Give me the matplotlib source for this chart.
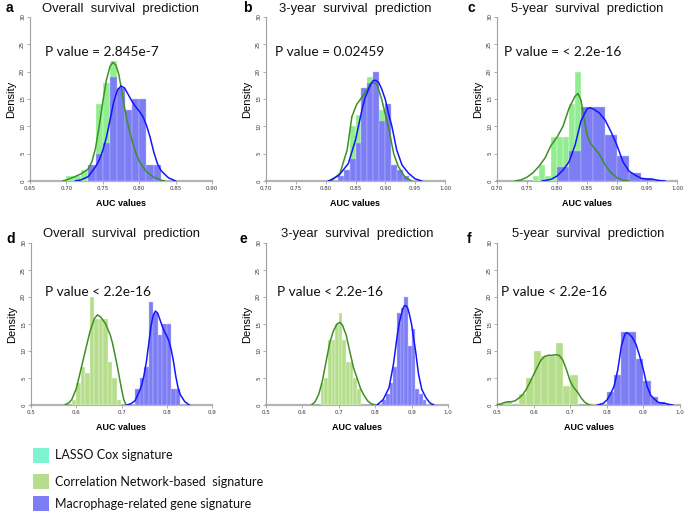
import matplotlib
matplotlib.use("Agg")
import matplotlib.pyplot as plt
from matplotlib.patches import Rectangle

# ---- histogram data (bin left edges, densities) ----
# top row: LASSO Cox vs macrophage signature
os_lasso_bins = [0.70, 0.71, 0.72, 0.73, 0.74, 0.75, 0.76, 0.77, 0.78, 0.79, 0.80, 0.81]
os_lasso_dens = [1, 1, 2, 3, 14, 18, 22, 17, 10, 8, 3, 1]
os_macro_bins = [0.73, 0.74, 0.75, 0.76, 0.77, 0.78, 0.79, 0.80, 0.81, 0.82]
os_macro_dens = [3, 5, 7, 19, 17, 13, 15, 15, 3, 3]

y3_lasso_bins = [0.83, 0.84, 0.85, 0.86, 0.87, 0.88, 0.89, 0.90, 0.91, 0.92]
y3_lasso_dens = [1, 10, 12, 17, 19, 17, 13, 8, 2, 1]
y3_macro_bins = [0.82, 0.83, 0.84, 0.85, 0.86, 0.87, 0.88, 0.89, 0.90, 0.91, 0.92, 0.93]
y3_macro_dens = [1, 2, 4, 7, 17, 18, 20, 11, 14, 3, 2, 1]

y5_lasso_bins = [0.76, 0.77, 0.78, 0.79, 0.80, 0.81, 0.82, 0.83, 0.84, 0.85, 0.86, 0.87, 0.88, 0.89]
y5_lasso_dens = [1, 3, 1, 8, 8, 8, 14, 20, 13, 9, 7, 5, 2, 1]
y5_macro_bins = [0.80, 0.82, 0.84, 0.86, 0.88, 0.90, 0.92, 0.94]
y5_macro_dens = [2.5, 5.5, 13.5, 13.5, 8.5, 4.5, 1.5, 0.5]

# bottom row: correlation network signature (macrophage data reused)
os_corr_bins = [0.59, 0.60, 0.61, 0.62, 0.63, 0.64, 0.65, 0.66, 0.67, 0.68, 0.69]
os_corr_dens = [1, 4, 7, 6, 20, 16, 16, 16, 8, 5, 1]
y3_corr_bins = [0.65, 0.66, 0.67, 0.68, 0.69, 0.70, 0.71, 0.72, 0.73, 0.74, 0.75]
y3_corr_dens = [4, 5, 12, 12, 15, 17, 12, 8, 8, 5, 3]
y5_corr_bins = [0.52, 0.54, 0.56, 0.58, 0.60, 0.62, 0.64, 0.66, 0.68, 0.70]
y5_corr_dens = [0.5, 0, 2, 5, 10, 9, 9, 11.5, 3.5, 5.5]

# ---- density curves ----
os_lasso_kx = [0.695, 0.70, 0.71, 0.72, 0.73, 0.735, 0.74, 0.745, 0.75, 0.755, 0.76, 0.764,
               0.768, 0.772, 0.776, 0.78, 0.785, 0.79, 0.795, 0.80, 0.81, 0.82, 0.83, 0.835]
os_lasso_ky = [0, 0.2, 0.7, 1.3, 2.2, 3.5, 6.0, 10.0, 14.5, 18.5, 21.0, 21.7,
               21.2, 19.5, 16.5, 13.3, 10.0, 7.5, 5.3, 3.6, 1.7, 0.7, 0.15, 0]
os_macro_kx = [0.712, 0.72, 0.73, 0.74, 0.745, 0.75, 0.755, 0.76, 0.765, 0.77, 0.775, 0.78,
               0.785, 0.79, 0.795, 0.80, 0.805, 0.81, 0.815, 0.82, 0.825, 0.83, 0.84, 0.85]
os_macro_ky = [0, 0.2, 0.8, 2.6, 3.8, 5.6, 8.0, 11.2, 14.5, 16.6, 17.4, 17.0,
               15.8, 14.6, 13.6, 12.8, 11.8, 10.2, 8.0, 5.3, 3.2, 1.9, 0.6, 0]

y3_lasso_kx = [0.805, 0.810, 0.824, 0.836, 0.844, 0.852, 0.860, 0.866, 0.872, 0.877, 0.882,
               0.886, 0.894, 0.900, 0.905, 0.914, 0.922, 0.933, 0.944]
y3_lasso_ky = [0, 0.1, 1.4, 5.7, 11.8, 14.0, 15.2, 16.1, 17.2, 18.0, 17.9,
               17.7, 14.9, 12.2, 10.0, 5.0, 2.6, 0.7, 0]
y3_macro_kx = [0.805, 0.822, 0.838, 0.850, 0.861, 0.866, 0.872, 0.876, 0.880, 0.884, 0.889,
               0.894, 0.900, 0.905, 0.911, 0.919, 0.928, 0.939, 0.950, 0.961]
y3_macro_ky = [0, 1.0, 3.2, 7.5, 13.1, 15.2, 16.8, 17.8, 18.4, 18.4, 18.0,
               16.8, 14.9, 12.5, 10.0, 5.7, 2.9, 1.4, 0.4, 0]

y5_lasso_kx = [0.73, 0.74, 0.75, 0.76, 0.77, 0.78, 0.79, 0.80, 0.81, 0.82, 0.83, 0.835,
               0.84, 0.845, 0.85, 0.855, 0.86, 0.87, 0.88, 0.89, 0.90, 0.91, 0.92]
y5_lasso_ky = [0, 0.2, 0.7, 1.5, 2.7, 4.2, 6.5, 8.0, 10.0, 13.3, 15.5, 16.0,
               14.8, 11.5, 8.5, 7.0, 6.3, 5.0, 3.0, 1.5, 0.6, 0.15, 0]
y5_macro_kx = [0.775, 0.79, 0.80, 0.81, 0.82, 0.83, 0.84, 0.85, 0.855, 0.86, 0.87, 0.88,
               0.89, 0.90, 0.91, 0.92, 0.93, 0.94, 0.95, 0.96, 0.97, 0.98]
y5_macro_ky = [0, 0.3, 0.9, 2.0, 3.5, 6.5, 11.0, 13.2, 13.4, 13.2, 12.5, 11.2,
               9.0, 6.5, 3.5, 1.8, 1.1, 0.5, 0.35, 0.3, 0.1, 0]

os_corr_kx = [0.575, 0.585, 0.59, 0.60, 0.61, 0.62, 0.63, 0.64, 0.647, 0.655, 0.665,
              0.675, 0.68, 0.69, 0.70, 0.705, 0.71]
os_corr_ky = [0, 0.5, 1.0, 3.0, 6.5, 10.0, 13.5, 16.0, 16.7, 16.2, 15.0,
              13.0, 11.5, 7.5, 3.0, 1.0, 0]
y3_corr_kx = [0.625, 0.635, 0.645, 0.655, 0.665, 0.675, 0.685, 0.695, 0.703, 0.71, 0.72,
              0.73, 0.74, 0.75, 0.76, 0.77, 0.78, 0.79, 0.80]
y3_corr_ky = [0, 0.6, 2.0, 4.5, 8.0, 11.5, 13.7, 15.0, 15.3, 14.8, 13.0,
              10.0, 7.0, 5.0, 3.0, 1.7, 0.7, 0.2, 0]
y5_corr_kx = [0.50, 0.51, 0.52, 0.53, 0.54, 0.55, 0.56, 0.57, 0.58, 0.59, 0.60, 0.61, 0.62,
              0.63, 0.64, 0.65, 0.66, 0.67, 0.68, 0.69, 0.70, 0.71, 0.72, 0.73, 0.74, 0.75, 0.755]
y5_corr_ky = [0.05, 0.2, 0.45, 0.6, 0.6, 0.8, 1.3, 1.9, 2.9, 4.2, 5.6, 7.0, 8.3,
              9.0, 9.2, 9.2, 9.3, 9.2, 8.3, 6.5, 4.4, 3.2, 2.4, 1.3, 0.5, 0.1, 0]

titles = ["Overall  survival  prediction", "3-year  survival  prediction", "5-year  survival  prediction"]
letters = ["a", "b", "c", "d", "e", "f"]
pvalues = ["P value = 2.845e-7", "P value = 0.02459", "P value = < 2.2e-16",
           "P value < 2.2e-16", "P value < 2.2e-16", "P value < 2.2e-16"]
top_xticks = [[0.65, 0.70, 0.75, 0.80, 0.85, 0.90],
              [0.70, 0.75, 0.80, 0.85, 0.90, 0.95, 1.00],
              [0.70, 0.75, 0.80, 0.85, 0.90, 0.95, 1.00]]
bot_xticks = [[0.5, 0.6, 0.7, 0.8, 0.9],
              [0.5, 0.6, 0.7, 0.8, 0.9, 1.0],
              [0.5, 0.6, 0.7, 0.8, 0.9, 1.0]]
yticks = [0, 5, 10, 15, 20, 25, 30]
legend_labels = ["LASSO Cox signature", "Correlation Network-based  signature",
                 "Macrophage-related gene signature"]

LASSO_GREEN = "#90ee90"
CORR_GREEN = "#b5dd8b"
AQUA = "#7ff5cf"
BAR_BLUE = "#7d7df5"
LINE_GREEN = "#3f8f25"
LINE_BLUE = "#1414ff"
AXIS_GREY = "#a0a0a0"

W, H = 685, 513
fig = plt.figure(figsize=(6.85, 5.13), dpi=100)


def fx(px):
    return px / W


def fy(py):
    return 1 - py / H


def draw_panel(ax, green_bins, green_dens, gwidth, green_col, blue_bins, blue_dens, bwidth,
               gkx, gky, bkx, bky, xticks, fmt):
    ax.bar(green_bins, green_dens, width=gwidth, align="edge", color=green_col,
           edgecolor="#eefbe6", linewidth=0.3, zorder=1)
    ax.bar(blue_bins, blue_dens, width=bwidth, align="edge", color=BAR_BLUE,
           edgecolor="#c4c4fb", linewidth=0.3, zorder=2)
    ax.plot(gkx, gky, color=LINE_GREEN, lw=1.1, zorder=3)
    ax.plot(bkx, bky, color=LINE_BLUE, lw=1.1, zorder=4)
    ax.set_xlim(xticks[0], xticks[-1])
    ax.set_ylim(0, 30)
    ax.set_xticks(xticks)
    ax.set_xticklabels([fmt % t for t in xticks])
    ax.set_yticks(yticks)
    ax.set_yticklabels([str(t) for t in yticks], rotation=90, va="center")
    for s in ["top", "right"]:
        ax.spines[s].set_visible(False)
    ax.spines["left"].set_color(AXIS_GREY)
    ax.spines["left"].set_linewidth(0.8)
    ax.spines["bottom"].set_color("#b4b4b4")
    ax.spines["bottom"].set_linewidth(1.6)
    ax.spines["bottom"].set_zorder(0)
    ax.tick_params(length=2, width=0.6, color=AXIS_GREY, labelsize=4, pad=1.5,
                   labelcolor="#333333")
    ax.patch.set_alpha(0)


top_pos = [(30, 212), (266, 445), (497, 677)]
bot_pos = [(31, 212), (266, 448), (497, 680)]
p_xpos = [45, 275, 504, 45, 277, 501]
letter_xpos = [6, 243, 468, 6, 240, 467]

top_data = [
    (os_lasso_bins, os_lasso_dens, 0.01, os_macro_bins, os_macro_dens, 0.01,
     os_lasso_kx, os_lasso_ky, os_macro_kx, os_macro_ky),
    (y3_lasso_bins, y3_lasso_dens, 0.01, y3_macro_bins, y3_macro_dens, 0.01,
     y3_lasso_kx, y3_lasso_ky, y3_macro_kx, y3_macro_ky),
    (y5_lasso_bins, y5_lasso_dens, 0.01, y5_macro_bins, y5_macro_dens, 0.02,
     y5_lasso_kx, y5_lasso_ky, y5_macro_kx, y5_macro_ky),
]
bot_data = [
    (os_corr_bins, os_corr_dens, 0.01, os_macro_bins, os_macro_dens, 0.01,
     os_corr_kx, os_corr_ky, os_macro_kx, os_macro_ky),
    (y3_corr_bins, y3_corr_dens, 0.01, y3_macro_bins, y3_macro_dens, 0.01,
     y3_corr_kx, y3_corr_ky, y3_macro_kx, y3_macro_ky),
    (y5_corr_bins, y5_corr_dens, 0.02, y5_macro_bins, y5_macro_dens, 0.02,
     y5_corr_kx, y5_corr_ky, y5_macro_kx, y5_macro_ky),
]

rows = [
    # positions, data, ticks, fmt, axes top px, axes bottom px, bar green, title y, p y, letter y
    (top_pos, top_data, top_xticks, "%.2f", 17, 181, LASSO_GREEN, 9, 52, 8),
    (bot_pos, bot_data, bot_xticks, "%.1f", 243, 405, CORR_GREEN, 234, 292, 239),
]

for row, (pos, data, ticks, fmt, ytop, ybot, green_col, ty, py, ly) in enumerate(rows):
    for i in range(3):
        x0, x1 = pos[i]
        k = row * 3 + i
        ax = fig.add_axes([fx(x0), fy(ybot), (x1 - x0) / W, (ybot - ytop) / H])
        gb, gd, gw, bb, bd, bw, gkx, gky, bkx, bky = data[i]
        draw_panel(ax, gb, gd, gw, green_col, bb, bd, bw, gkx, gky, bkx, bky, ticks[i], fmt)
        ax.set_ylabel("Density", family="Liberation Sans", fontsize=8, labelpad=3)
        ax.set_xlabel("AUC values", family="Liberation Sans", fontsize=6.5,
                      fontweight="bold", labelpad=6)
        fig.text(fx((x0 + x1) / 2), fy(ty), titles[i], family="Liberation Sans",
                 fontsize=9.4, color="#111111", ha="center", va="center")
        fig.text(fx(p_xpos[k]), fy(py), pvalues[k], family="Lato", fontsize=9.8,
                 color="#111111", ha="left", va="center")
        fig.text(fx(letter_xpos[k]), fy(ly), letters[k], family="Liberation Sans",
                 fontsize=10, fontweight="bold", ha="left", va="center")

# legend drawn by hand: squares + labels
legend_colors = [AQUA, CORR_GREEN, BAR_BLUE]
legend_ys = [455, 481.5, 503.5]
for col, lab, yc in zip(legend_colors, legend_labels, legend_ys):
    fig.add_artist(Rectangle((fx(33), fy(yc + 7.5)), 16 / W, 15 / H,
                             transform=fig.transFigure, facecolor=col, edgecolor="none"))
    fig.text(fx(55), fy(yc), lab, family="Lato", fontsize=9, color="#111111",
             ha="left", va="center")

fig.savefig("out.png", dpi=100)
